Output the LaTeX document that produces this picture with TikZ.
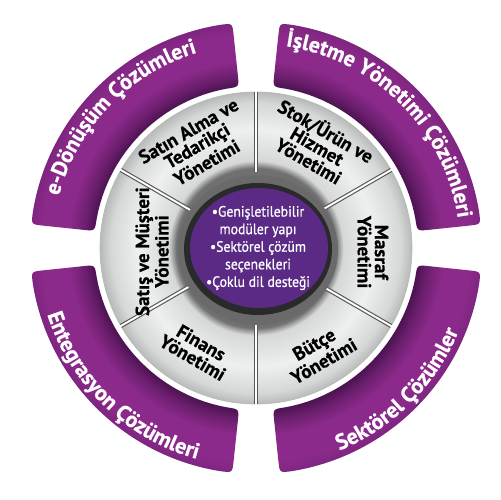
\documentclass[tikz,border=0pt]{standalone}
\usepackage{fontspec}
\usetikzlibrary{decorations.text}
\newfontfamily\bandfont{PT Sans Bold}[FakeBold=0.6]
\newfontfamily\segfont{PT Sans Bold}[FakeBold=0.7]
\newfontfamily\midfont{PT Sans}[FakeStretch=0.92,FakeBold=0.8]
\newcommand\bandstyle{\bandfont\fontsize{12.5}{14}\selectfont}
\definecolor{bandMain}{HTML}{8C2A8B}
\definecolor{bandEdge}{HTML}{7E2580}
\definecolor{bandDeep}{HTML}{6A1E6C}
\definecolor{bandDark}{HTML}{4A1350}
\definecolor{hubPurple}{HTML}{5A2A85}
\definecolor{ringA}{HTML}{707070}
\definecolor{ringB}{HTML}{D6D8D8}
\definecolor{ringC}{HTML}{EEF0F0}
\definecolor{ringD}{HTML}{B8BABA}
\definecolor{sepDark}{HTML}{555555}
\definecolor{hubRingOuter}{HTML}{6A6A6A}
\definecolor{hubRingInner}{HTML}{2A2A2A}
\pgfdeclareradialshading{bandshading}{\pgfpoint{0bp}{0bp}}{color(0bp)=(bandDark); color(17.9bp)=(bandDark); color(19bp)=(bandDeep); color(20.8bp)=(bandMain); color(23.6bp)=(bandMain); color(25bp)=(bandEdge); color(50bp)=(bandEdge)}
\pgfdeclareradialshading{ringshading}{\pgfpoint{0bp}{0bp}}{color(0bp)=(ringA); color(12.8bp)=(ringA); color(14bp)=(ringB); color(19bp)=(ringC); color(23.2bp)=(ringB); color(25bp)=(ringD); color(50bp)=(ringD)}
\newcommand\bandpath[2]{({#1+3}:226) arc[start angle={#1+3}, end angle={#2-3}, radius=226] .. controls ({#2}:226) .. ({#2}:214) -- ({#2}:174) .. controls ({#2}:162) .. ({#2-4.2}:162) arc[start angle={#2-4.2}, end angle={#1+4.2}, radius=162] .. controls ({#1}:162) .. ({#1}:174) -- ({#1}:214) .. controls ({#1}:226) .. ({#1+3}:226) -- cycle}
\tikzset{
  segtext/.style={font=\segfont\fontsize{10.8}{9.8}\selectfont, align=center, text=black, inner sep=0pt},
  midtext/.style={font=\midfont\fontsize{8.5}{10}\selectfont, align=center, text=white, inner sep=0pt},
  bandtext/.style={decorate, decoration={text along path, text align=center, text color=white, text={|\bandstyle|#1}}}
}
\begin{document}
\begin{tikzpicture}[x=0.02cm,y=0.02cm]
\useasboundingbox (0,0) rectangle (500,500);
\fill[white] (0,0) rectangle (500,500);
\coordinate (C) at (256,252);
\begin{scope}[shift={(C)}]
  % purple bands
  \foreach \a in {96,6,186,276} {
    \begin{scope}
      \clip \bandpath{\a}{\a+78};
      \shade[shading=bandshading] (0,0) circle[radius=226];
    \end{scope}
  }
  % grey ring
  \shade[shading=ringshading] (0,0) circle[radius=156];
  \draw[ringD, line width=0.4pt] (0,0) circle[radius=156];
  \foreach \a in {90,30,-30,-90,150,210} {
    \draw[sepDark, line width=2.4pt] (\a:76) -- (\a:156);
    \draw[white, line width=1.1pt] (\a:76) -- (\a:158);
  }
\end{scope}
% hub
\fill[hubRingOuter] (258,250) ellipse[x radius=80, y radius=75];
\fill[hubRingInner] (258,251) ellipse[x radius=74, y radius=66];
\fill[hubPurple] (259,252) ellipse[x radius=69, y radius=60];
\node[midtext] (hub) at (258,252) {•Genişletilebilir\\modüler yapı\\•Sektörel çözüm\\seçenekleri\\•Çoklu dil desteği};
% segment labels
\begin{scope}[shift={(C)}]
  \node[segtext, rotate=30] (satin) at (120:117) {Satın Alma ve\\Tedarikçi\\Yönetimi};
  \node[segtext, rotate=-30] (stok) at (59:120) {Stok/Ürün ve\\Hizmet\\Yönetimi};
  \node[segtext, rotate=-90] (masraf) at (-2:117) {Masraf\\Yönetimi};
  \node[segtext, rotate=30] (butce) at (-59:122) {Bütçe\\Yönetimi};
  \node[segtext, rotate=-30] (finans) at (240:118) {Finans\\Yönetimi};
  \node[segtext, rotate=90] (satis) at (182:104) {Satış ve Müşteri\\Yönetimi};
  % band labels
  \path[bandtext={e-Dönüşüm Çözümleri}] (176:204) arc[start angle=176, end angle=96, radius=204];
  \path[bandtext={İşletme Yönetimi Çözümleri}] (85:204) arc[start angle=85, end angle=5, radius=204];
  \path[bandtext={Entegrasyon Çözümleri}] (186:219) arc[start angle=186, end angle=266, radius=219];
  \path[bandtext={Sektörel Çözümler}] (-85:219) arc[start angle=-85, end angle=-5, radius=219];
\end{scope}
\end{tikzpicture}
\end{document}
